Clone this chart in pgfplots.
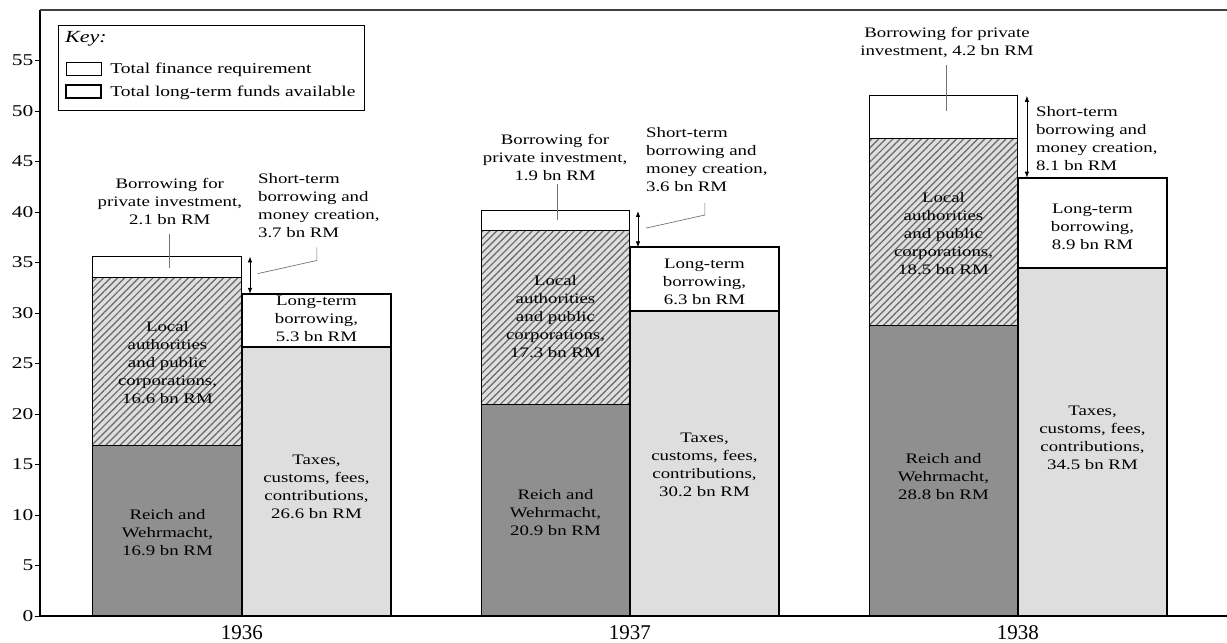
\documentclass[border=0pt]{standalone}
\usepackage{fontspec}
\setmainfont{Liberation Serif}[FakeStretch=1.3]
\newfontfamily\yearfont{Liberation Serif}
\usepackage{pgfplots}
\pgfplotsset{compat=1.18}
\usetikzlibrary{patterns.meta,arrows.meta}

\definecolor{reich}{gray}{0.56}
\definecolor{taxes}{gray}{0.87}
\definecolor{hatchbg}{gray}{0.87}
\definecolor{hatchln}{gray}{0.40}

\pgfplotsset{
  basechart/.style={scale only axis, width=1187pt, height=606pt,
    xmin=-0.5206, xmax=2.5387, ymin=0, ymax=60, clip=false,
    ybar stacked, bar width=0.384},
  keyhead/.style={legend image code/.code={\path[draw=none,fill=none] (0pt,-17pt) rectangle (1pt,2pt);}},
  keyrect/.style={legend image code/.code={\draw[##1] (0pt,-6pt) rectangle (35pt,7pt);}},
  keyrectb/.style={legend image code/.code={\draw[##1] (0pt,-6pt) rectangle (35pt,7pt);
      \path[draw=none,fill=none] (0pt,-14pt) rectangle (1pt,0pt);}},
}
\tikzset{lbl/.style={align=center, inner sep=0pt, text=black},
  lbll/.style={anchor=west, align=left, inner sep=0pt, text=black},
  leader/.style={black!55, line width=0.7pt},
  gap/.style={{Latex[length=6pt,width=4.5pt]}-{Latex[length=6pt,width=4.5pt]}, line width=0.8pt}}

\begin{document}
\fontsize{14.5}{18}\selectfont
\begin{tikzpicture}
\begin{axis}[basechart, name=ax,
  axis x line*=bottom, axis y line*=left,
  axis line style={line width=1.1pt},
  xtick={0,1,2}, xticklabels={1936,1937,1938},
  x tick style={draw=none},
  xticklabel style={font=\yearfont\fontsize{21}{21}\selectfont},
  ytick={0,5,...,55},
  y tick style={line width=0.8pt, black},
  tick align=outside, major tick length=5pt,
  yticklabel style={font=\fontsize{16.5}{17}\selectfont, inner xsep=1.5pt},
  /pgf/number format/assume math mode=true,
  legend style={at={(0.01516,0.97525)}, anchor=north west, draw=black, line width=0.8pt,
    font=\fontsize{15}{18}\selectfont, row sep=6pt, column sep=6pt,
    inner xsep=7pt, inner ysep=4pt},
  legend cell align=left,
]
% left stacks: total finance requirement
\addplot[forget plot, fill=reich, draw=black, line width=1pt]
  coordinates {(-0.192,16.9) (0.808,20.9) (1.808,28.8)};
\addplot[forget plot, preaction={fill=hatchbg},
  pattern={Lines[angle=45,distance=5pt,line width=1.2pt]}, pattern color=hatchln,
  draw=black, line width=1pt]
  coordinates {(-0.192,16.6) (0.808,17.3) (1.808,18.5)};
\addplot[forget plot, fill=white, draw=black, line width=1pt]
  coordinates {(-0.192,2.1) (0.808,1.9) (1.808,4.2)};

\addlegendimage{keyhead, draw=none}
\addlegendentry{\hspace*{-46pt}{\fontsize{17}{18}\selectfont\textit{Key:}}}
\addlegendimage{keyrect, draw=black, line width=0.8pt, fill=white}
\addlegendentry{Total finance requirement}
\addlegendimage{keyrectb, draw=black, line width=2pt, fill=white}
\addlegendentry{Total long-term funds available}

\draw[line width=1.1pt, black!75] (rel axis cs:0,1) -- (rel axis cs:1,1);
\end{axis}

\begin{axis}[basechart, hide axis]
% right stacks: total long-term funds available
\addplot[fill=taxes, draw=black, line width=2pt]
  coordinates {(0.192,26.6) (1.192,30.2) (2.192,34.5)};
\addplot[fill=white, draw=black, line width=2pt]
  coordinates {(0.192,5.3) (1.192,6.3) (2.192,8.9)};
\end{axis}

\begin{axis}[basechart, hide axis]
% segment labels
\node[lbl] at (axis cs:-0.192,8.3) {Reich and\\Wehrmacht,\\16.9 bn RM};
\node[lbl] at (axis cs:-0.192,25.1) {Local\\authorities\\and public\\corporations,\\16.6 bn RM};
\node[lbl] at (axis cs:0.192,12.8) {Taxes,\\customs, fees,\\contributions,\\26.6 bn RM};
\node[lbl] at (axis cs:0.192,29.4) {Long-term\\borrowing,\\5.3 bn RM};
\node[lbl] at (axis cs:-0.186,41.0) {Borrowing for\\private investment,\\2.1 bn RM};
\node[lbll] at (axis cs:0.041,40.6) {Short-term\\borrowing and\\money creation,\\3.7 bn RM};

\node[lbl] at (axis cs:0.808,10.2) {Reich and\\Wehrmacht,\\20.9 bn RM};
\node[lbl] at (axis cs:0.808,29.6) {Local\\authorities\\and public\\corporations,\\17.3 bn RM};
\node[lbl] at (axis cs:1.192,15.0) {Taxes,\\customs, fees,\\contributions,\\30.2 bn RM};
\node[lbl] at (axis cs:1.192,33.1) {Long-term\\borrowing,\\6.3 bn RM};
\node[lbl] at (axis cs:0.807,45.4) {Borrowing for\\private investment,\\1.9 bn RM};
\node[lbll] at (axis cs:1.041,45.2) {Short-term\\borrowing and\\money creation,\\3.6 bn RM};

\node[lbl] at (axis cs:1.808,13.8) {Reich and\\Wehrmacht,\\28.8 bn RM};
\node[lbl] at (axis cs:1.808,37.9) {Local\\authorities\\and public\\corporations,\\18.5 bn RM};
\node[lbl] at (axis cs:2.192,17.6) {Taxes,\\customs, fees,\\contributions,\\34.5 bn RM};
\node[lbl] at (axis cs:2.192,38.5) {Long-term\\borrowing,\\8.9 bn RM};
\node[lbl] at (axis cs:1.817,56.8) {Borrowing for private\\investment, 4.2 bn RM};
\node[lbll] at (axis cs:2.046,47.3) {Short-term\\borrowing and\\money creation,\\8.1 bn RM};

% leader lines
\draw[leader] (axis cs:-0.186,37.8) -- (axis cs:-0.186,34.5);
\draw[leader] (axis cs:0.193,36.5) -- (axis cs:0.193,35.2) -- (axis cs:0.041,33.9);
\draw[leader] (axis cs:0.812,42.8) -- (axis cs:0.812,39.2);
\draw[leader] (axis cs:1.193,40.9) -- (axis cs:1.193,39.7) -- (axis cs:1.041,38.4);
\draw[leader] (axis cs:1.815,54.6) -- (axis cs:1.815,50.0);

% double arrows: short-term borrowing gap
\draw[gap] (axis cs:0.0206,35.6) -- (axis cs:0.0206,31.9);
\draw[gap] (axis cs:1.0206,40.1) -- (axis cs:1.0206,36.5);
\draw[gap] (axis cs:2.023,51.5) -- (axis cs:2.023,43.4);
\end{axis}
\pgfresetboundingbox
\path ([shift={(-40pt,-27pt)}]ax.south west) rectangle ([shift={(0pt,10pt)}]ax.north east);
\end{tikzpicture}
\end{document}
